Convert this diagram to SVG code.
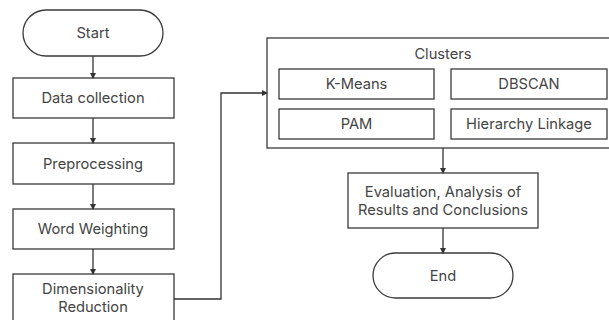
<svg xmlns="http://www.w3.org/2000/svg" width="609" height="320" viewBox="0 0 609 320">
<defs>
<marker id="ah" markerWidth="6" markerHeight="6" refX="5" refY="3" orient="auto" markerUnits="userSpaceOnUse">
<path d="M0,0 L6,3 L0,6 Z" fill="#333"/>
</marker>
<style>
.b{fill:#fff;stroke:#3a3a3a;stroke-width:1.3}
.t{font-family:Inter,"Open Sans",sans-serif;font-size:14.7px;fill:#444;text-anchor:middle;dominant-baseline:central}
.c{fill:none;stroke:#333;stroke-width:1.3;marker-end:url(#ah)}
</style>
</defs>
<rect width="609" height="320" fill="#fff"/>
<g id="start"><rect class="b" x="23" y="10" width="140" height="46" rx="23"/><text class="t" x="93" y="33">Start</text></g>
<g id="data"><rect class="b" x="13" y="78" width="161" height="40"/><text class="t" x="93" y="98">Data collection</text></g>
<g id="pre"><rect class="b" x="13" y="143" width="161" height="41"/><text class="t" x="93" y="163.5">Preprocessing</text></g>
<g id="ww"><rect class="b" x="13" y="209" width="161" height="40"/><text class="t" x="93" y="229">Word Weighting</text></g>
<g id="dr"><rect class="b" x="13" y="274" width="161" height="56"/><text class="t" x="93" y="289">Dimensionality</text><text class="t" x="93" y="307">Reduction</text></g>
<g id="clusters"><rect class="b" x="267" y="38" width="350" height="110"/><text class="t" x="443" y="54">Clusters</text></g>
<g id="km"><rect class="b" x="279" y="69" width="155" height="30"/><text class="t" x="356.5" y="84">K-Means</text></g>
<g id="db"><rect class="b" x="451" y="69" width="156" height="30"/><text class="t" x="529" y="84">DBSCAN</text></g>
<g id="pam"><rect class="b" x="279" y="109" width="155" height="30"/><text class="t" x="356.5" y="124">PAM</text></g>
<g id="hl"><rect class="b" x="451" y="109" width="156" height="30"/><text class="t" x="529" y="124">Hierarchy Linkage</text></g>
<g id="eval"><rect class="b" x="348" y="173" width="190" height="55"/><text class="t" x="443" y="192">Evaluation, Analysis of</text><text class="t" x="443" y="210">Results and Conclusions</text></g>
<g id="end"><rect class="b" x="373" y="253" width="140" height="45" rx="22.5"/><text class="t" x="443" y="275.5">End</text></g>
<g id="connectors">
<path class="c" d="M93,56 V78"/>
<path class="c" d="M93,118 V143"/>
<path class="c" d="M93,184 V209"/>
<path class="c" d="M93,249 V274"/>
<path class="c" d="M174,299 H221 V93 H267"/>
<path class="c" d="M443,148 V173"/>
<path class="c" d="M443,228 V253"/>
</g>
</svg>
